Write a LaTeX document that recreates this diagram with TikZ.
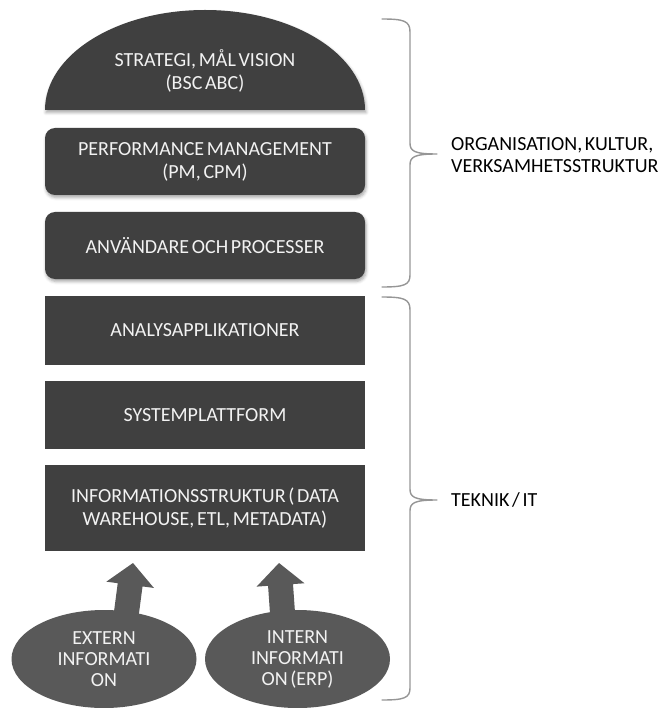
\documentclass[tikz,border=0pt]{standalone}
\usepackage{fontspec}
\setmainfont{Carlito}[WordSpace=0.6]
\usetikzlibrary{shapes.geometric,shadows.blur}
\definecolor{boxdark}{RGB}{64,64,64}
\definecolor{srcgray}{RGB}{89,89,89}
\definecolor{bracegray}{RGB}{150,150,150}
\definecolor{boxtext}{RGB}{242,242,242}

\begin{document}
\begin{tikzpicture}[x=1pt,y=-1pt,
  boxtxt/.style={text=boxtext, font=\fontsize{20pt}{23pt}\selectfont, align=center},
  layer/.style={boxtxt, fill=boxdark, minimum width=320pt, inner sep=0pt},
  softshadow/.style={blur shadow={shadow xshift=1pt, shadow yshift=-2.5pt,
      shadow blur radius=3pt, shadow opacity=35}},
  roundlayer/.style={layer, rounded corners=10pt, softshadow},
  source/.style={boxtxt, font=\fontsize{20pt}{21pt}\selectfont, ellipse,
      fill=srcgray, minimum width=185pt, minimum height=98pt, inner sep=0pt},
  brace/.style={draw=bracegray, line width=1.4pt, line cap=round, line join=round},
  sidelabel/.style={anchor=west, align=left, inner sep=0pt,
      font=\fontsize{20pt}{22pt}\selectfont, text=black},
  blockarrow/.pic={\fill[srcgray] (0,0) -- (24,22) -- (12.5,22) -- (12.5,52)
      -- (-12.5,52) -- (-12.5,22) -- (-24,22) -- cycle;}
]
\useasboundingbox (0,0) rectangle (662,708);

% top layer: half-ellipse dome
\fill[boxdark, softshadow] (45,110) .. controls (45,54.8) and (116.6,10) .. (205,10)
  .. controls (293.4,10) and (365,54.8) .. (365,110) -- cycle;
\node[boxtxt] (strategy) at (205,71) {STRATEGI, MÅL VISION\\(BSC ABC)};

% organisational layers
\node[roundlayer, minimum height=67pt] (pm) at (205,161.5) {PERFORMANCE MANAGEMENT\\(PM, CPM)};
\node[roundlayer, minimum height=67pt] (users) at (205,245.5) {ANVÄNDARE OCH PROCESSER};

% technical layers
\node[layer, minimum height=69pt] (apps) at (205,330.5) {ANALYSAPPLIKATIONER};
\node[layer, minimum height=68pt] (platform) at (205,415) {SYSTEMPLATTFORM};
\node[layer, minimum height=86pt] (infra) at (205,508) {INFORMATIONSSTRUKTUR ( DATA\\WAREHOUSE, ETL, METADATA)};

% block arrows feeding the information structure
\pic[rotate=-7.5] at (133,563) {blockarrow};
\pic[rotate=4] at (279,563) {blockarrow};

% information sources
\node[source] (ext) at (104,659) {EXTERN\\INFORMATI\\ON};
\node[source] (int) at (297.5,659) {INTERN\\INFORMATI\\ON (ERP)};

% braces
\draw[brace] (382,19) .. controls (404,19) and (410,21) .. (410,32) -- (410,143)
  .. controls (410,151) and (414,154) .. (437,154)
  .. controls (414,154) and (410,157) .. (410,165) -- (410,275)
  .. controls (410,285) and (404,287) .. (382,287);
\draw[brace] (382,297) .. controls (404,297) and (410,299) .. (410,310) -- (410,489)
  .. controls (410,497) and (414,500) .. (437,500)
  .. controls (414,500) and (410,503) .. (410,511) -- (410,688)
  .. controls (410,698) and (404,700) .. (382,700);

% brace labels
\node[sidelabel] (org) at (451,155) {ORGANISATION, KULTUR,\\VERKSAMHETSSTRUKTUR};
\node[sidelabel] (tech) at (451,500) {TEKNIK / IT};
\end{tikzpicture}
\end{document}
